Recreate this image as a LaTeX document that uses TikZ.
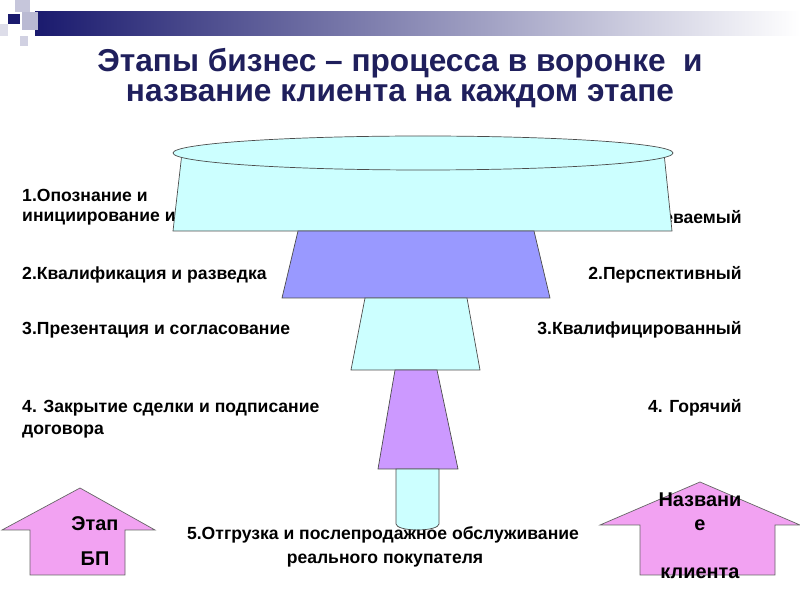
\documentclass[tikz,border=0pt]{standalone}
\usepackage{fontspec}
\setmainfont{Liberation Sans}
\usepackage{tikz}

\definecolor{navy}{HTML}{1A1A6E}
\definecolor{ttl}{HTML}{1F1F5C}
\definecolor{cyanf}{HTML}{CCFFFF}
\definecolor{bluef}{HTML}{9999FF}
\definecolor{violf}{HTML}{CC99FF}
\definecolor{pinkf}{HTML}{F2A2F2}

\tikzset{
  lbl/.style={font=\fontsize{15}{17}\selectfont\bfseries, inner sep=0pt},
  big/.style={font=\fontsize{17}{30}\selectfont\bfseries, inner sep=0pt},
  part/.style={draw=black!70, line width=0.6pt},
  bigarrow/.style={fill=pinkf, draw=black!60, line width=0.6pt}
}

\begin{document}
\begin{tikzpicture}[x=0.03cm, y=-0.03cm]
		\useasboundingbox (0,0) rectangle (800,600);
		% header bar and squares
		\shade[left color=navy, right color=white] (35,12) rectangle (800,36);
		\fill[navy!25] (15,0) rectangle (30,12);
		\fill[navy] (8,14) rectangle (20,24);
		\fill[navy!30] (22,12) rectangle (38,30);
		\fill[navy!20] (20,36) rectangle (28,46);
		\fill[navy!15] (0,24) rectangle (8,36);
		
		\node[font=\fontsize{27}{26}\selectfont\bfseries, text=ttl, align=center] (title) at (400,78)
			{Этапы бизнес – процесса в воронке \ и\\название клиента на каждом этапе};
		
		% labels (partly hidden behind the funnel)
		\node[lbl, anchor=west] (s1a) at (22,195) {1.Опознание и};
		\node[lbl, anchor=west] (s1b) at (22,219) {инициирование интереса};
		\node[lbl, anchor=east] (c1) at (742,219) {1.Подозреваемый};
		\node[lbl, anchor=west] (s2) at (22,275) {2.Квалификация и разведка};
		\node[lbl, anchor=east] (c2) at (742,275) {2.Перспективный};
		\node[lbl, anchor=west] (s3) at (22,330) {3.Презентация и согласование};
		\node[lbl, anchor=east] (c3) at (742,330) {3.Квалифицированный};
		\node[lbl, anchor=west] (s4a) at (22,408) {4. Закрытие сделки и подписание};
		\node[lbl, anchor=west] (s4b) at (22,432) {договора};
		\node[lbl, anchor=east] (c4) at (742,408) {4. Горячий};
		
		% funnel
		\draw[part, fill=cyanf] (182,153) -- (664,153) -- (672,231) -- (173,231) -- cycle;
		\draw[part, fill=cyanf] (423,153) ellipse (250 and 17);
		\draw[part, fill=bluef] (298,231) -- (534,231) -- (550,298) -- (282,298) -- cycle;
		\draw[part, fill=cyanf] (365,298) -- (467,298) -- (480,370) -- (351,370) -- cycle;
		\draw[part, fill=violf] (395,370) -- (437,370) -- (458,469) -- (378,469) -- cycle;
		\draw[part, fill=cyanf] (396,469) -- (439,469) -- (439,524) arc (0:180:21.5 and 6) -- cycle;
		
		% arrows
		\draw[bigarrow] (80,488) -- (155,530) -- (125,530) -- (125,575) -- (30,575) -- (30,530) -- (2,530) -- cycle;
		\draw[bigarrow] (700,482) -- (800,525) -- (775,525) -- (775,575) -- (640,575) -- (640,525) -- (600,525) -- cycle;
		\node[big, align=center] (bp) at (95,541) {Этап\\БП};
		\node[big] (n1) at (700,500) {Названи};
		\node[big] (n2) at (700,525) {е};
		\node[big] (n3) at (700,573) {клиента};
		
		\node[lbl] (s5a) at (383,535) {5.Отгрузка и послепродажное обслуживание};
		\node[lbl] (s5b) at (385,561) {реального покупателя};
	\end{tikzpicture}
\end{document}
